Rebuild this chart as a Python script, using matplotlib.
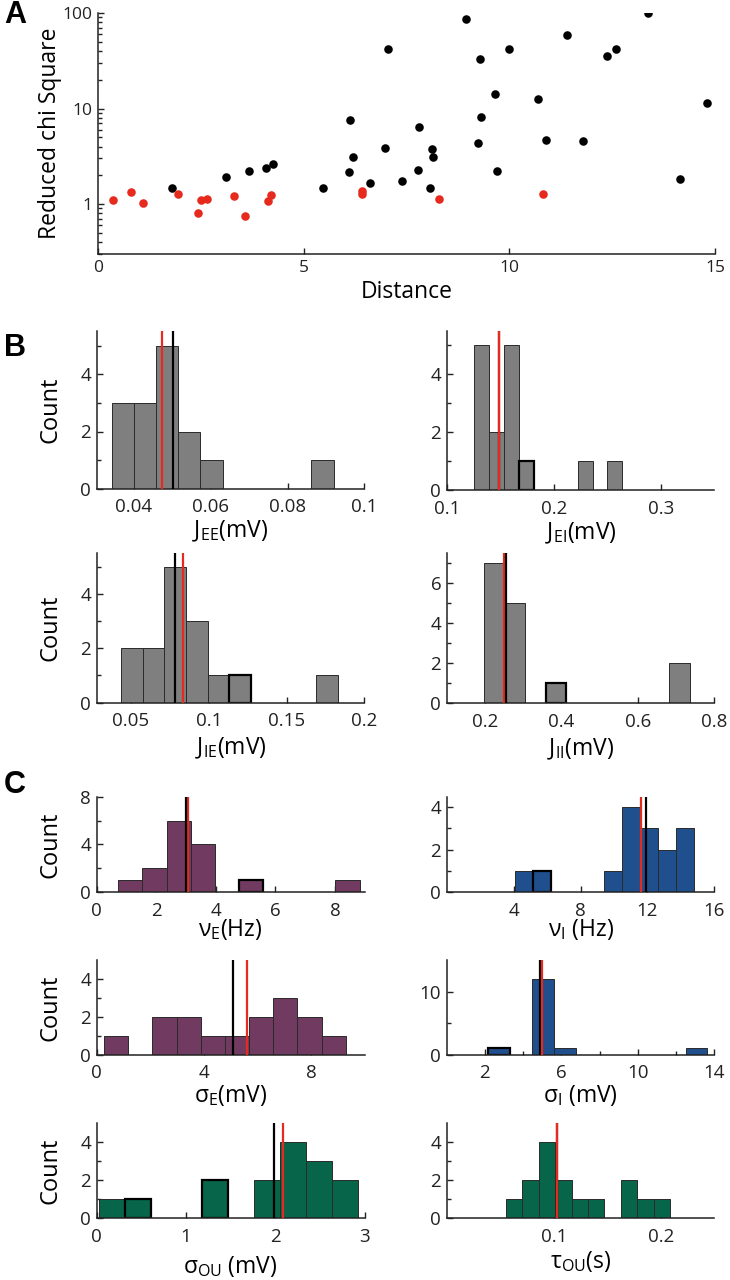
import matplotlib
matplotlib.use('Agg')
import matplotlib.pyplot as plt
import numpy as np
from matplotlib.ticker import FixedLocator, FixedFormatter, NullFormatter, LogLocator

plt.rcParams['font.family'] = ['Open Sans', 'DejaVu Sans']
plt.rcParams['mathtext.fontset'] = 'custom'
plt.rcParams['mathtext.rm'] = 'Open Sans'
plt.rcParams['mathtext.it'] = 'Open Sans:italic'
plt.rcParams['axes.linewidth'] = 1.1

# ---------------- Panel A data ----------------
black_dist = [1.79, 3.10, 3.68, 4.08, 4.25, 5.46, 6.13, 6.21, 6.10, 6.61, 7.04, 6.98,
              7.38, 7.81, 7.79, 8.13, 8.14, 8.07, 8.95, 9.29, 9.98, 9.65, 9.32, 9.25,
              9.69, 10.70, 10.90, 11.40, 11.80, 12.38, 12.59, 13.38, 14.16, 14.80]
black_chi = [1.46, 1.90, 2.23, 2.38, 2.60, 1.49, 7.64, 3.13, 2.16, 1.67, 42.0, 3.89,
             1.75, 6.45, 2.29, 3.79, 3.13, 1.46, 86.0, 33.0, 42.0, 14.2, 8.2, 4.39,
             2.23, 12.6, 4.65, 58.9, 4.61, 35.7, 42.0, 99.0, 1.84, 11.3]
red_dist = [0.36, 0.80, 1.09, 1.94, 2.42, 2.51, 2.64, 3.30, 3.57, 4.13, 4.21, 6.41, 6.41,
            8.30, 10.83]
red_chi = [1.09, 1.33, 1.03, 1.28, 0.81, 1.09, 1.13, 1.22, 0.75, 1.07, 1.25, 1.37, 1.26,
           1.12, 1.28]

# ---------------- Histogram data ----------------
# each: bin range (first left edge, last right edge), counts, outlined bins, mean lines
jee_range = (0.0342, 0.0920)
jee_counts = [3, 3, 5, 2, 1, 0, 0, 0, 0, 1]
jee_outlined = []
jee_red, jee_black = 0.0472, 0.0502

jei_range = (0.1259, 0.2639)
jei_counts = [5, 2, 5, 1, 0, 0, 0, 1, 0, 1]
jei_outlined = [3]
jei_red, jei_black = 0.1493, 0.1493

jie_range = (0.0436, 0.1831)
jie_counts = [2, 2, 5, 3, 1, 1, 0, 0, 0, 1]
jie_outlined = [5]
jie_red, jie_black = 0.0835, 0.0786

jii_range = (0.1974, 0.7364)
jii_counts = [7, 5, 0, 1, 0, 0, 0, 0, 0, 2]
jii_outlined = [3]
jii_red, jii_black = 0.2487, 0.2548

nue_range = (0.728, 8.828)
nue_counts = [1, 2, 6, 4, 0, 1, 0, 0, 0, 1]
nue_outlined = [5]
nue_red, nue_black = 3.06, 3.00

nui_range = (4.07, 14.77)
nui_counts = [1, 1, 0, 0, 0, 1, 4, 3, 2, 3]
nui_outlined = [1]
nui_red, nui_black = 11.60, 11.94

sige_range = (0.278, 9.29)
sige_counts = [1, 0, 2, 2, 1, 1, 2, 3, 2, 1]
sige_outlined = []
sige_red, sige_black = 5.60, 5.08

sigi_range = (2.18, 13.64)
sigi_counts = [1, 0, 12, 1, 0, 0, 0, 0, 0, 1]
sigi_outlined = [0]
sigi_red, sigi_black = 4.96, 4.88

sigou_range = (0.026, 2.921)
sigou_counts = [1, 1, 0, 0, 2, 0, 2, 4, 3, 2]
sigou_outlined = [1, 4]
sigou_red, sigou_black = 2.09, 1.99

tau_range = (0.055, 0.209)
tau_counts = [1, 2, 4, 2, 1, 1, 0, 2, 1, 1]
tau_outlined = []
tau_red, tau_black = 0.1031, 0.1031

GRAY = '#7f7f7f'
PURPLE = '#713a61'
BLUE = '#204f8d'
GREEN = '#07654a'
RED = '#e62b1e'

W, H = 730, 1280
fig = plt.figure(figsize=(W / 100, H / 100), dpi=100)


def rect(l, t, r, b):
    return [l / W, 1 - b / H, (r - l) / W, (b - t) / H]


def style(ax):
    for s in ['top', 'right']:
        ax.spines[s].set_visible(False)
    for s in ['left', 'bottom']:
        ax.spines[s].set_color('#222222')
    ax.tick_params(which='both', direction='in', colors='#222222', labelcolor='#222222')
    ax.tick_params(which='major', length=4, width=1)
    ax.tick_params(which='minor', length=3, width=1)


# ---------------- Panel A ----------------
axA = fig.add_axes(rect(98, 13, 715, 254))
style(axA)
axA.scatter(black_dist, black_chi, s=38, color='black', zorder=3, linewidths=0)
axA.scatter(red_dist, red_chi, s=38, color=RED, zorder=3, linewidths=0)
axA.set_yscale('log')
axA.set_xlim(0, 15)
axA.set_ylim(0.3, 100)
axA.set_xticks([0, 5, 10, 15])
axA.set_xticklabels(['0', '5', '10', '15'])
axA.yaxis.set_major_locator(FixedLocator([1, 10, 100]))
axA.yaxis.set_major_formatter(FixedFormatter(['1', '10', '100']))
axA.yaxis.set_minor_locator(LogLocator(base=10, subs=np.arange(2, 10)))
axA.yaxis.set_minor_formatter(NullFormatter())
axA.tick_params(labelsize=12.5, pad=4)
axA.set_xlabel('Distance', fontsize=16.5)
axA.set_ylabel('Reduced chi Square', fontsize=16.5)
axA.xaxis.set_label_coords(0.5, -38 / 241)
axA.xaxis.label.set_va('center')
axA.yaxis.set_label_coords(-48 / 617, 0.5)
axA.yaxis.label.set_va('center')


def hist(r, rng, counts, outlined, red, black, color, xlim, ylim, xt, xtl, yt, ytmin,
         xlabel, xlab_off, ylabel=True, xtmin=None, red_on_top=True):
    ax = fig.add_axes(rect(*r))
    style(ax)
    n = len(counts)
    edges = np.linspace(rng[0], rng[1], n + 1)
    w = edges[1] - edges[0]
    ax.bar(edges[:-1], counts, width=w, align='edge', color=color,
           edgecolor='#2a2a2a', linewidth=0.7, zorder=2)
    for i in outlined:
        ax.bar(edges[i], counts[i], width=w, align='edge', color=color,
               edgecolor='black', linewidth=1.6, zorder=2.5)
    if red_on_top:
        ax.axvline(black, color='black', lw=1.6, zorder=3)
        ax.axvline(red, color=RED, lw=1.6, zorder=3.1)
    else:
        ax.axvline(red, color=RED, lw=1.6, zorder=3)
        ax.axvline(black, color='black', lw=1.6, zorder=3.1)
    ax.set_xlim(*xlim)
    ax.set_ylim(*ylim)
    ax.xaxis.set_major_locator(FixedLocator(xt))
    ax.xaxis.set_major_formatter(FixedFormatter(xtl))
    if xtmin:
        ax.xaxis.set_minor_locator(FixedLocator(xtmin))
    ax.yaxis.set_major_locator(FixedLocator(yt))
    ax.yaxis.set_major_formatter(FixedFormatter([str(v) for v in yt]))
    ax.yaxis.set_minor_locator(FixedLocator(ytmin))
    ax.tick_params(labelsize=13.5)
    ax.tick_params(axis='x', pad=7)
    ax.tick_params(axis='y', pad=4)
    ax.set_xlabel(xlabel, fontsize=16.5)
    hpx = r[3] - r[1]
    ax.xaxis.set_label_coords(0.5, -(xlab_off + 1) / hpx)
    ax.xaxis.label.set_va('center')
    if ylabel:
        ax.set_ylabel('Count', fontsize=17)
        wpx = r[2] - r[0]
        ax.yaxis.set_label_coords(-46 / wpx, 0.5)
        ax.yaxis.label.set_va('center')
    return ax


# Panel B
hist((96.7, 331.4, 364.3, 488.7), jee_range, jee_counts, jee_outlined, jee_red, jee_black,
     GRAY, (0.0303, 0.1), (0, 5.5), [0.04, 0.06, 0.08, 0.1], ['0.04', '0.06', '0.08', '0.1'],
     [0, 2, 4], [1, 3, 5], r'J$_{\mathrm{EE}}$(mV)', 42)
hist((446.7, 330.5, 714.3, 490), jei_range, jei_counts, jei_outlined, jei_red, jei_black,
     GRAY, (0.1, 0.35), (0, 5.5), [0.1, 0.2, 0.3], ['0.1', '0.2', '0.3'],
     [0, 2, 4], [1, 3, 5], r'J$_{\mathrm{EI}}$(mV)', 42, ylabel=False)
hist((96.7, 553, 364.3, 702.7), jie_range, jie_counts, jie_outlined, jie_red, jie_black,
     GRAY, (0.028, 0.2), (0, 5.5), [0.05, 0.1, 0.15, 0.2], ['0.05', '0.1', '0.15', '0.2'],
     [0, 2, 4], [1, 3, 5], r'J$_{\mathrm{IE}}$(mV)', 45)
hist((446.7, 553, 714.3, 703), jii_range, jii_counts, jii_outlined, jii_red, jii_black,
     GRAY, (0.1, 0.8), (0, 7.5), [0.2, 0.4, 0.6, 0.8], ['0.2', '0.4', '0.6', '0.8'],
     [0, 2, 4, 6], [1, 3, 5, 7], r'J$_{\mathrm{II}}$(mV)', 45, ylabel=False, red_on_top=False)

# Panel C
hist((96.7, 796.7, 364.7, 892), nue_range, nue_counts, nue_outlined, nue_red, nue_black,
     PURPLE, (0, 9), (0, 8), [0, 2, 4, 6, 8], ['0', '2', '4', '6', '8'],
     [0, 4, 8], [2, 6], r'ν$_{\mathrm{E}}$(Hz)', 37, red_on_top=False)
hist((446.7, 796.7, 714.3, 892), nui_range, nui_counts, nui_outlined, nui_red, nui_black,
     BLUE, (0, 16), (0, 4.5), [4, 8, 12, 16], ['4', '8', '12', '16'],
     [0, 2, 4], [1, 3], r'ν$_{\mathrm{I}}$ (Hz)', 37, ylabel=False)
hist((96.7, 960, 364.7, 1054.7), sige_range, sige_counts, sige_outlined, sige_red, sige_black,
     PURPLE, (0, 10), (0, 5), [0, 4, 8], ['0', '4', '8'],
     [0, 2, 4], [1, 3], r'σ$_{\mathrm{E}}$(mV)', 40)
hist((446.7, 960, 714.3, 1054.7), sigi_range, sigi_counts, sigi_outlined, sigi_red, sigi_black,
     BLUE, (0, 14), (0, 15), [2, 6, 10, 14], ['2', '6', '10', '14'],
     [0, 10], [5], r'σ$_{\mathrm{I}}$ (mV)', 40, ylabel=False, xtmin=[4, 8, 12])
hist((96.7, 1123.3, 364.7, 1218.3), sigou_range, sigou_counts, sigou_outlined, sigou_red,
     sigou_black, GREEN, (0, 3), (0, 5), [0, 1, 2, 3], ['0', '1', '2', '3'],
     [0, 2, 4], [1, 3], r'σ$_{\mathrm{OU}}$ (mV)', 47)
hist((446.7, 1123.3, 714.3, 1218.3), tau_range, tau_counts, tau_outlined, tau_red, tau_black,
     GREEN, (0, 0.25), (0, 5), [0.1, 0.2], ['0.1', '0.2'],
     [0, 2, 4], [1, 3], r'τ$_{\mathrm{OU}}$(s)', 42, ylabel=False)

# Panel letters
for letter, y in [('A', 15), ('B', 348), ('C', 785)]:
    fig.text(4 / W, 1 - y / H, letter, fontsize=22, fontweight='bold',
             family=['Liberation Sans', 'DejaVu Sans'], va='center', ha='left')

fig.savefig('out.png', dpi=100)
